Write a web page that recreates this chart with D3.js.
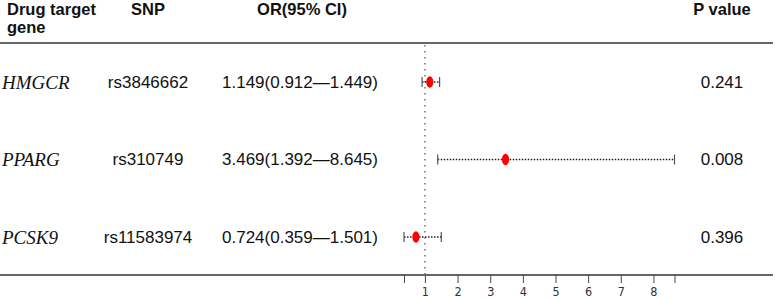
<!DOCTYPE html>
<html lang="en">
<head>
    <meta charset="UTF-8">
    <title>Forest Plot - Drug target genes</title>
    <script src="https://d3js.org/d3.v7.min.js"></script>
    <style>
        body {
            margin: 0;
            background: #fff;
            font-family: "Liberation Sans", Arial, sans-serif;
        }

        .head {
            font-weight: bold;
            font-size: 16.5px;
            fill: #111;
        }

        .cell {
            font-size: 17px;
            fill: #111;
        }

        .gene {
            font-family: "Liberation Serif", "Times New Roman", serif;
            font-style: italic;
            font-size: 19px;
            fill: #111;
        }

        .tick text {
            font-family: "Liberation Sans Narrow", "DejaVu Sans Condensed", sans-serif;
            font-stretch: condensed;
            font-size: 12.5px;
            fill: #333;
        }
    </style>
</head>
<body>
    <div id="chart"></div>
    <script>
        const genes = ["HMGCR", "PPARG", "PCSK9"];
        const snps = ["rs3846662", "rs310749", "rs11583974"];
        const orValues = [1.149, 3.469, 0.724];
        const ciLow = [0.912, 1.392, 0.359];
        const ciHigh = [1.449, 8.645, 1.501];
        const pValues = ["0.241", "0.008", "0.396"];
        const tickValues = [0.359, 1, 2, 3, 4, 5, 6, 7, 8, 8.645];

        const width = 775, height = 299;

        const svg = d3.select("#chart")
            .append("svg")
            .attr("width", width)
            .attr("height", height);

        const x = d3.scaleLinear()
            .domain([0.359, 8.645])
            .range([404, 674.5]);

        const y = d3.scalePoint()
            .domain(genes)
            .range([82, 237]);

        const rows = genes.map((g, i) => ({
            gene: g,
            snp: snps[i],
            or: orValues[i],
            lo: ciLow[i],
            hi: ciHigh[i],
            p: pValues[i]
        }));

        // header
        svg.append("text").attr("class", "head").attr("x", 7).attr("y", 15).text("Drug target");
        svg.append("text").attr("class", "head").attr("x", 7).attr("y", 33).text("gene");
        svg.append("text").attr("class", "head").attr("x", 148).attr("y", 15)
            .attr("text-anchor", "middle").text("SNP");
        svg.append("text").attr("class", "head").attr("x", 302).attr("y", 15)
            .attr("text-anchor", "middle").text("OR(95% CI)");
        svg.append("text").attr("class", "head").attr("x", 722).attr("y", 15)
            .attr("text-anchor", "middle").text("P value");

        // top and bottom rules
        svg.append("line")
            .attr("x1", 0).attr("x2", 773)
            .attr("y1", 43).attr("y2", 43)
            .attr("stroke", "#333").attr("stroke-width", 1.3);

        svg.append("line")
            .attr("x1", 0).attr("x2", 773)
            .attr("y1", 275).attr("y2", 275)
            .attr("stroke", "#333").attr("stroke-width", 1.3);

        // reference line at OR = 1
        svg.append("line")
            .attr("x1", x(1)).attr("x2", x(1))
            .attr("y1", 45).attr("y2", 275)
            .attr("stroke", "#666")
            .attr("stroke-width", 1.4)
            .attr("stroke-dasharray", "1.5,4.5");

        // axis
        const axis = d3.axisBottom(x)
            .tickValues(tickValues)
            .tickSize(8)
            .tickFormat(d => Number.isInteger(d) ? d : "");

        const gx = svg.append("g")
            .attr("transform", "translate(0,275)")
            .call(axis);
        gx.select(".domain").remove();
        gx.selectAll(".tick line").attr("stroke", "#444");
        gx.selectAll(".tick text").attr("dy", "0.9em").attr("y", 10);

        // text columns
        const row = svg.selectAll(".row")
            .data(rows)
            .enter()
            .append("g")
            .attr("class", "row")
            .attr("transform", d => `translate(0,${y(d.gene)})`);

        row.append("text").attr("class", "gene")
            .attr("x", 2).attr("dy", "0.35em")
            .text(d => d.gene);

        row.append("text").attr("class", "cell")
            .attr("x", 148).attr("dy", "0.35em")
            .attr("text-anchor", "middle")
            .text(d => d.snp);

        row.append("text").attr("class", "cell")
            .attr("x", 300).attr("dy", "0.35em")
            .attr("text-anchor", "middle")
            .text(d => `${d.or.toFixed(3)}(${d.lo.toFixed(3)}\u2014${d.hi.toFixed(3)})`);

        row.append("text").attr("class", "cell")
            .attr("x", 722).attr("dy", "0.35em")
            .attr("text-anchor", "middle")
            .text(d => d.p);

        // CI lines
        row.append("line")
            .attr("x1", d => x(d.lo)).attr("x2", d => x(d.hi))
            .attr("stroke", "#222")
            .attr("stroke-width", 1.5)
            .attr("stroke-dasharray", "1.5,1.5");

        row.append("line")
            .attr("x1", d => x(d.lo)).attr("x2", d => x(d.lo))
            .attr("y1", -5).attr("y2", 5)
            .attr("stroke", "#555")
            .attr("stroke-width", 1.2);

        row.append("line")
            .attr("x1", d => x(d.hi)).attr("x2", d => x(d.hi))
            .attr("y1", -5).attr("y2", 5)
            .attr("stroke", "#555")
            .attr("stroke-width", 1.2);

        // point estimates
        row.append("ellipse")
            .attr("cx", d => x(d.or))
            .attr("rx", 3.6)
            .attr("ry", 5.8)
            .attr("fill", "#f00");
    </script>
</body>
</html>
